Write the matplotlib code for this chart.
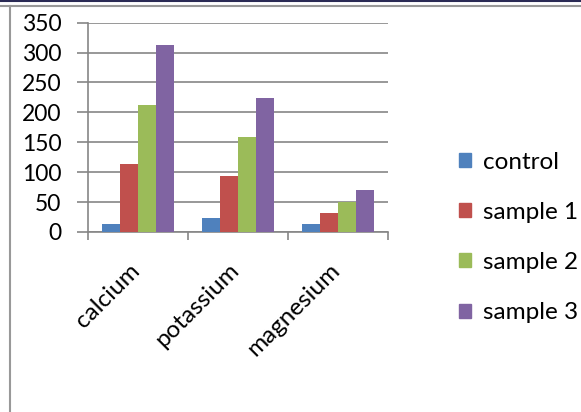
import matplotlib
matplotlib.use("Agg")
import matplotlib.pyplot as plt
from matplotlib.patches import Patch
from matplotlib.lines import Line2D
import numpy as np

# data
minerals = ["calcium", "potassium", "magnesium"]
series_names = ["control", "sample 1", "sample 2", "sample 3"]
control = [14, 24, 14]
sample1 = [114, 94, 32]
sample2 = [213, 159, 50]
sample3 = [313, 224, 70]
yticks = [0, 50, 100, 150, 200, 250, 300, 350]

colors = ["#4F81BD", "#C0504D", "#9BBB59", "#8064A2"]
grid_col = "#868686"

plt.rcParams["font.family"] = ["Lato", "DejaVu Sans"]

fig = plt.figure(figsize=(5.81, 4.12), dpi=100)
ax = fig.add_axes([88/581, 1-232/412, 300/581, (232-22.7)/412])

x = np.arange(len(minerals))
w = 1/5.5
values = [control, sample1, sample2, sample3]
for i, vals in enumerate(values):
    ax.bar(x + (i-1.5)*w, vals, width=w, color=colors[i], label=series_names[i], zorder=3)

ax.set_xlim(-0.5, 2.5)
ax.set_ylim(0, 350)
ax.set_yticks(yticks)
ax.yaxis.grid(True, color=grid_col, linewidth=1.2, zorder=0)
ax.tick_params(axis="y", length=8, width=1.2, color=grid_col, pad=11, labelsize=16.5)

# tick marks between categories, names placed under each group
ax.set_xticks([-0.5, 0.5, 1.5, 2.5])
ax.set_xticklabels([])
ax.tick_params(axis="x", length=6, width=1.2, color=grid_col)
for xi, name in zip(x, minerals):
    ax.annotate(name, xy=(xi, 0), xycoords=("data", "axes fraction"),
                xytext=(4, -20), textcoords="offset points",
                rotation=45, ha="right", va="top", fontsize=17.5)

for s in ["top", "right"]:
    ax.spines[s].set_visible(False)
ax.spines["left"].set_color(grid_col)
ax.spines["left"].set_linewidth(1.2)
ax.spines["bottom"].set_color(grid_col)
ax.spines["bottom"].set_linewidth(1.2)

# legend runs off the right edge, like the reference screenshot
handles = [Patch(color=c) for c in colors]
fig.legend(handles, series_names, loc="upper left", bbox_to_anchor=(449/581, 1-142/412),
           frameon=False, handlelength=0.5, handleheight=0.5, handletextpad=0.5,
           labelspacing=1.2, fontsize=17.5, borderaxespad=0)

# bits of the surrounding chart frame
fig.add_artist(Line2D([0, 1], [1-1/412, 1-1/412], color="#2a2a55", linewidth=1.5))
fig.add_artist(Line2D([0, 1], [1-5.5/412, 1-5.5/412], color="#999999", linewidth=1.5))
fig.add_artist(Line2D([9.5/581, 9.5/581], [0, 1-5.5/412], color="#999999", linewidth=1.5))

fig.savefig("out.png", dpi=100)
